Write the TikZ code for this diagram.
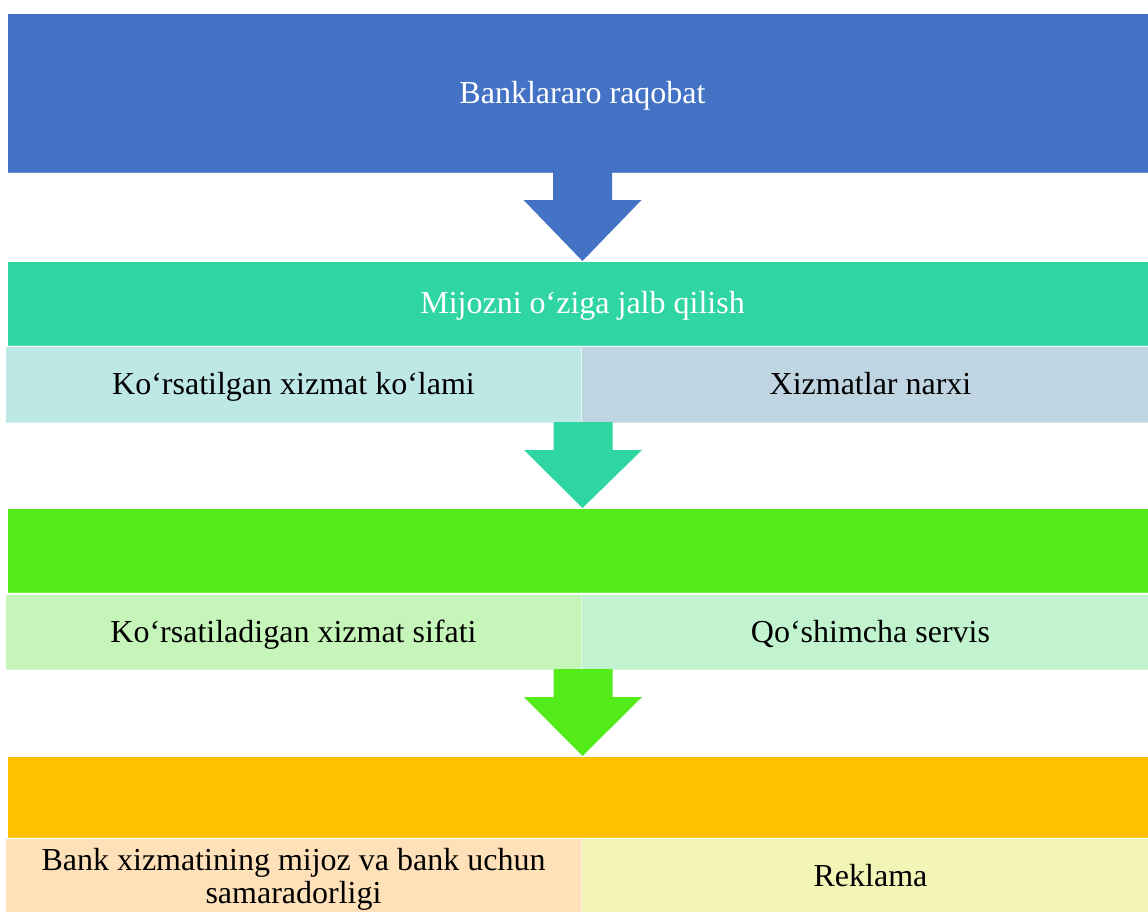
\documentclass[tikz,border=0pt]{standalone}
\usepackage{fontspec}
\setmainfont{Liberation Serif}
\usetikzlibrary{calc}
\definecolor{cBlue}{HTML}{4472C4}
\definecolor{cTeal}{HTML}{2FD6A2}
\definecolor{cGreen}{HTML}{54EB1A}
\definecolor{cOrange}{HTML}{FFC000}
\definecolor{sTwoL}{HTML}{BDE8E6}
\definecolor{sTwoR}{HTML}{BFD5E1}
\definecolor{sThreeL}{HTML}{C6F5BA}
\definecolor{sThreeR}{HTML}{C0F3CE}
\definecolor{sFourL}{HTML}{FFE1B9}
\definecolor{sFourR}{HTML}{F3F5B7}
\newcommand\bigdownarrow[3]{%
  \fill[#3] ($(#1)+(-29.5pt,1pt)$) -- ($(#1)+(-29.5pt,-27pt)$) -- ($(#1)+(-59pt,-27pt)$)
    -- (#2) -- ($(#1)+(59pt,-27pt)$) -- ($(#1)+(29.5pt,-27pt)$) -- ($(#1)+(29.5pt,1pt)$) -- cycle;}
\begin{document}
\begin{tikzpicture}[x=1pt,y=-1pt,
  every node/.style={font=\fontsize{32}{33}\selectfont, inner sep=0pt, anchor=north west, text height=24pt, text depth=4pt},
  bar/.style={minimum width=1150pt, text=white, draw=white, draw opacity=0.2, line width=1pt},
  sub/.style={minimum width=577pt, text=black, draw=white, draw opacity=0.35, line width=1pt, align=center}]
\useasboundingbox (0,0) rectangle (1148,911);
\fill[white] (0,0) rectangle (1148,911);
\node[bar, fill=cBlue, minimum height=159pt] (b1) at (7,13) {Banklararo raqobat};
\node[bar, fill=cTeal, minimum height=84pt] (b2) at (7,261) {Mijozni o‘ziga jalb qilish};
\node[sub, fill=sTwoL, minimum height=76pt, minimum width=576pt] (s2l) at (5,346) {Ko‘rsatilgan xizmat ko‘lami};
\node[sub, fill=sTwoR, minimum height=76pt, minimum width=578pt] (s2r) at (581,346) {Xizmatlar narxi};
\node[bar, fill=cGreen, minimum height=84pt] (b3) at (7,508) {};
\node[sub, fill=sThreeL, minimum height=75pt, minimum width=576pt] (s3l) at (5,594) {Ko‘rsatiladigan xizmat sifati};
\node[sub, fill=sThreeR, minimum height=75pt, minimum width=578pt] (s3r) at (581,594) {Qo‘shimcha servis};
\node[bar, fill=cOrange, minimum height=81pt] (b4) at (7,756) {};
\node[sub, fill=sFourL, minimum height=76pt, minimum width=576pt, text height=57pt, text depth=4pt] (s4l) at (5,838) {Bank xizmatining mijoz va bank uchun\\samaradorligi};
\node[sub, fill=sFourR, minimum height=76pt, minimum width=578pt] (s4r) at (581,838) {Reklama};
\bigdownarrow{b1.south}{b2.north}{cBlue}
\bigdownarrow{$(s2l.south east)+(1pt,0)$}{$(b3.north)+(0,0)$}{cTeal}
\bigdownarrow{$(s3l.south east)+(1pt,0)$}{$(b4.north)+(0,0)$}{cGreen}
\end{tikzpicture}
\end{document}
